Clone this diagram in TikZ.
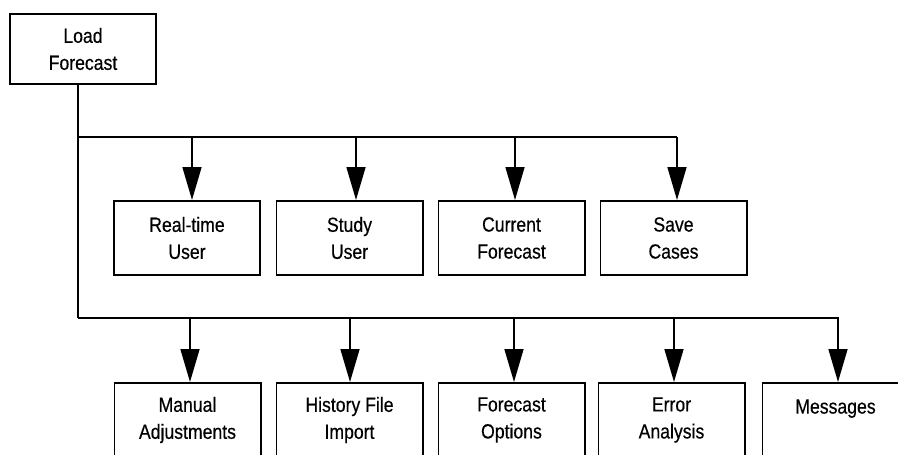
\documentclass[tikz,border=0pt]{standalone}
\usepackage{fontspec}
\setmainfont[FakeStretch=0.86,FakeBold=0.4]{Liberation Sans}
\usetikzlibrary{arrows.meta}
\begin{document}
\begin{tikzpicture}[x=1pt,y=-1pt,
  box/.style={draw, line width=1.6pt, minimum width=146.4pt, minimum height=74.4pt,
    align=center, inner sep=0pt, font=\fontsize{20.5}{27}\selectfont},
  wire/.style={line width=1.6pt},
  feed/.style={wire, -{Triangle[length=33pt,width=19pt]}}]
\useasboundingbox (0,0) rectangle (898,455);
\clip (0,0) rectangle (898,455);

% root
\node[box, minimum height=70.4pt] (lf) at (83,49) {Load\\Forecast};

% first row of modules
\node[box] (rt) at (187,238)   {Real-time\\User};
\node[box] (su) at (349.5,238) {Study\\User};
\node[box] (cf) at (511.5,238) {Current\\Forecast};
\node[box] (sc) at (673.5,238) {Save\\Cases};

% second row of modules
\node[box] (ma) at (187.5,420) {Manual\\Adjustments};
\node[box] (hf) at (349.5,420) {History File\\Import};
\node[box] (fo) at (511.5,420) {Forecast\\Options};
\node[box] (ea) at (671.5,420) {Error\\Analysis};
\node[box] (ms) at (835.5,420) {Messages\\\mbox{}};

% bus junctions
\coordinate (t1) at (78,137);
\coordinate (t2) at (78,318);
\coordinate (a1) at (192,137);
\coordinate (a2) at (356,137);
\coordinate (a3) at (515,137);
\coordinate (a4) at (677,137);
\coordinate (b1) at (190,318);
\coordinate (b2) at (350,318);
\coordinate (b3) at (514,318);
\coordinate (b4) at (674,318);
\coordinate (b5) at (838,318);

% trunk and buses
\draw[wire] (lf.south -| t1) -- (t2);
\draw[wire] (t1) -- (a4);

% feeds into the first row
\draw[feed] (a1) -- (a1 |- rt.north);
\draw[feed] (a2) -- (a2 |- su.north);
\draw[feed] (a3) -- (a3 |- cf.north);
\draw[feed] (a4) -- (a4 |- sc.north);

% feeds into the second row
\draw[feed] (t2) -- (b5) -- (b5 |- ms.north);
\draw[feed] (b1) -- (b1 |- ma.north);
\draw[feed] (b2) -- (b2 |- hf.north);
\draw[feed] (b3) -- (b3 |- fo.north);
\draw[feed] (b4) -- (b4 |- ea.north);
\end{tikzpicture}
\end{document}
